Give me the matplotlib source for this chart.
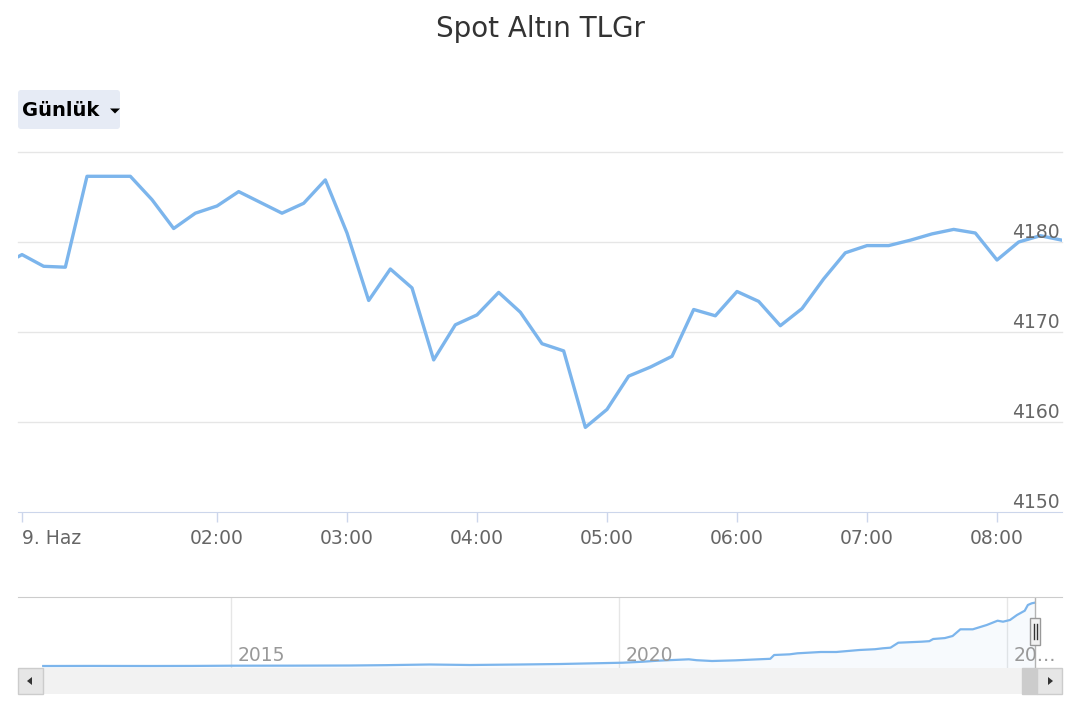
import numpy as np
import matplotlib
matplotlib.use("Agg")
import matplotlib.pyplot as plt
from matplotlib.patches import Rectangle, FancyBboxPatch, Polygon

W, H = 1080, 720
BLUE = "#7cb5ec"

TITLE = "Spot Altın TLGr"
RANGE_LABEL = "Günlük"

# 10-minute quotes, 9 June
TIMES = ["00:20", "00:30", "00:40", "00:50", "01:00", "01:10", "01:20", "01:30", "01:40", "01:50",
         "02:00", "02:10", "02:20", "02:30", "02:40", "02:50", "03:00", "03:10", "03:20", "03:30",
         "03:40", "03:50", "04:00", "04:10", "04:20", "04:30", "04:40", "04:50", "05:00", "05:10",
         "05:20", "05:30", "05:40", "05:50", "06:00", "06:10", "06:20", "06:30", "06:40", "06:50",
         "07:00", "07:10", "07:20", "07:30", "07:40", "07:50", "08:00", "08:10", "08:20", "08:30"]
PRICES = [4177.3, 4178.6, 4177.3, 4177.2, 4187.3, 4187.3, 4187.3, 4184.7, 4181.5, 4183.2,
          4184.0, 4185.6, 4184.4, 4183.2, 4184.3, 4186.9, 4181.0, 4173.5, 4177.0, 4174.9,
          4166.9, 4170.8, 4171.9, 4174.4, 4172.2, 4168.7, 4167.9, 4159.4, 4161.4, 4165.1,
          4166.1, 4167.3, 4172.5, 4171.8, 4174.5, 4173.4, 4170.7, 4172.6, 4175.9, 4178.8,
          4179.6, 4179.6, 4180.2, 4180.9, 4181.4, 4181.0, 4178.0, 4180.0, 4180.7, 4180.2]
Y_TICKS = [4150, 4160, 4170, 4180]
X_TICKS = ["00:30", "02:00", "03:00", "04:00", "05:00", "06:00", "07:00", "08:00"]
X_TICK_LABELS = ["9. Haz", "02:00", "03:00", "04:00", "05:00", "06:00", "07:00", "08:00"]

# navigator: long history (year, TL per gram)
NAV_YEARS = [2012.58, 2013.2, 2013.96, 2014.5, 2015.0, 2015.8, 2016.53, 2017.0, 2017.56, 2018.08,
             2018.72, 2019.24, 2020.05, 2020.3, 2020.5, 2020.9, 2021.0, 2021.2, 2021.5, 2021.8,
             2021.95, 2022.0, 2022.2, 2022.3, 2022.6, 2022.8, 2023.1, 2023.3, 2023.4, 2023.5,
             2023.6, 2023.9, 2024.0, 2024.05, 2024.2, 2024.3, 2024.4, 2024.56, 2024.74, 2024.88,
             2024.95, 2025.04, 2025.13, 2025.23, 2025.27, 2025.32, 2025.36]
NAV_PRICES = [95, 100, 95, 100, 114, 118, 127, 150, 192, 160,
              192, 224, 308, 370, 438, 528, 470, 418, 460, 528,
              560, 806, 850, 916, 1000, 1000, 1130, 1180, 1239, 1280,
              1601, 1666, 1700, 1840, 1900, 2034, 2467, 2467, 2745, 3023,
              2959, 3069, 3392, 3670, 4038, 4148, 4187]
NAV_TICKS = [2015, 2020, 2025]
NAV_TICK_LABELS = ["2015", "2020", "20\u2026"]


def minutes(t):
    h, m = t.split(":")
    return int(h) * 60 + int(m)


def box(l, t, r, b):
    return [l / W, 1 - b / H, (r - l) / W, (b - t) / H]


plt.rcParams["font.family"] = ["DejaVu Sans"]
fig = plt.figure(figsize=(10.8, 7.2), dpi=100)

# main chart
ax = fig.add_axes(box(18, 152, 1062, 512))
ax.plot([minutes(t) for t in TIMES], PRICES, color=BLUE, lw=2.4, solid_joinstyle="round", zorder=3)
ax.set_xlim(28.15, 510)
ax.set_ylim(4150, 4190)
for v in (4160, 4170, 4180, 4190):
    ax.axhline(v, color="#e6e6e6", lw=1, zorder=0, clip_on=False)
for s in ("top", "left", "right"):
    ax.spines[s].set_visible(False)
ax.spines["bottom"].set_color("#ccd6eb")
ax.set_yticks([])
for v in Y_TICKS:
    ax.annotate(str(v), xy=(1, v), xycoords=ax.get_yaxis_transform(), xytext=(-2, 4),
                textcoords="offset pixels", ha="right", va="baseline", fontsize=13.5, color="#666666")
ax.set_xticks([minutes(t) for t in X_TICKS], X_TICK_LABELS)
ax.tick_params(axis="x", length=7.2, width=1, color="#ccd6eb", labelsize=13.5,
               labelcolor="#666666", pad=5)
ax.get_xticklabels()[0].set_ha("left")

# navigator
nav = fig.add_axes(box(18, 597, 1062, 668))
nav.fill_between(NAV_YEARS, NAV_PRICES, -34, color=BLUE, alpha=0.06, lw=0)
nav.plot(NAV_YEARS, NAV_PRICES, color=BLUE, lw=1.6)
nav.set_xlim(2012.255, 2025.71)
nav.set_ylim(-34, 4555)
for yr, lab in zip(NAV_TICKS, NAV_TICK_LABELS):
    nav.axvline(yr, color="#e6e6e6", lw=1, zorder=0)
    nav.annotate(lab, xy=(yr, 0), xycoords=nav.get_xaxis_transform(), xytext=(7, 7),
                 textcoords="offset pixels", ha="left", va="baseline", fontsize=13.5, color="#999999")
nav.axvline(NAV_YEARS[-1], color="#b3b3b3", lw=1)
for s in ("bottom", "left", "right"):
    nav.spines[s].set_visible(False)
nav.spines["top"].set_color("#cccccc")
nav.set_xticks([])
nav.set_yticks([])

# overlay for title, range button, handle and scrollbar (pixel coords)
ov = fig.add_axes([0, 0, 1, 1])
ov.set_xlim(0, W)
ov.set_ylim(H, 0)
ov.axis("off")
ov.text(540, 29, TITLE, ha="center", va="center", fontsize=20, color="#333333")
ov.add_patch(FancyBboxPatch((18, 90), 102, 39, boxstyle="round,pad=0,rounding_size=3",
                            fc="#e6ebf5", ec="none"))
ov.text(22, 110, RANGE_LABEL, ha="left", va="center", fontsize=14, fontweight="bold", color="#000000")
ov.add_patch(Polygon([(110, 108.5), (120, 108.5), (115, 113.5)], closed=True, fc="#000000", ec="none"))

# navigator handle
ov.add_patch(Rectangle((1030, 618), 10, 27, fc="#f2f2f2", ec="#999999", lw=1))
ov.plot([1033.5, 1033.5], [624, 639], color="#333333", lw=1)
ov.plot([1036.5, 1036.5], [624, 639], color="#333333", lw=1)

# scrollbar
ov.add_patch(Rectangle((18, 668), 1044, 26, fc="#f2f2f2", ec="none"))
ov.add_patch(Rectangle((1022, 668), 15, 26, fc="#cccccc", ec="#cccccc", lw=1))
ov.add_patch(Rectangle((18, 668), 25, 26, fc="#e6e6e6", ec="#cccccc", lw=1))
ov.add_patch(Rectangle((1037, 668), 25, 26, fc="#e6e6e6", ec="#cccccc", lw=1))
ov.add_patch(Polygon([(27, 681), (32, 677), (32, 685)], closed=True, fc="#333333", ec="none"))
ov.add_patch(Polygon([(1048, 677), (1053, 681), (1048, 685)], closed=True, fc="#333333", ec="none"))

fig.savefig("out.png", dpi=100)
